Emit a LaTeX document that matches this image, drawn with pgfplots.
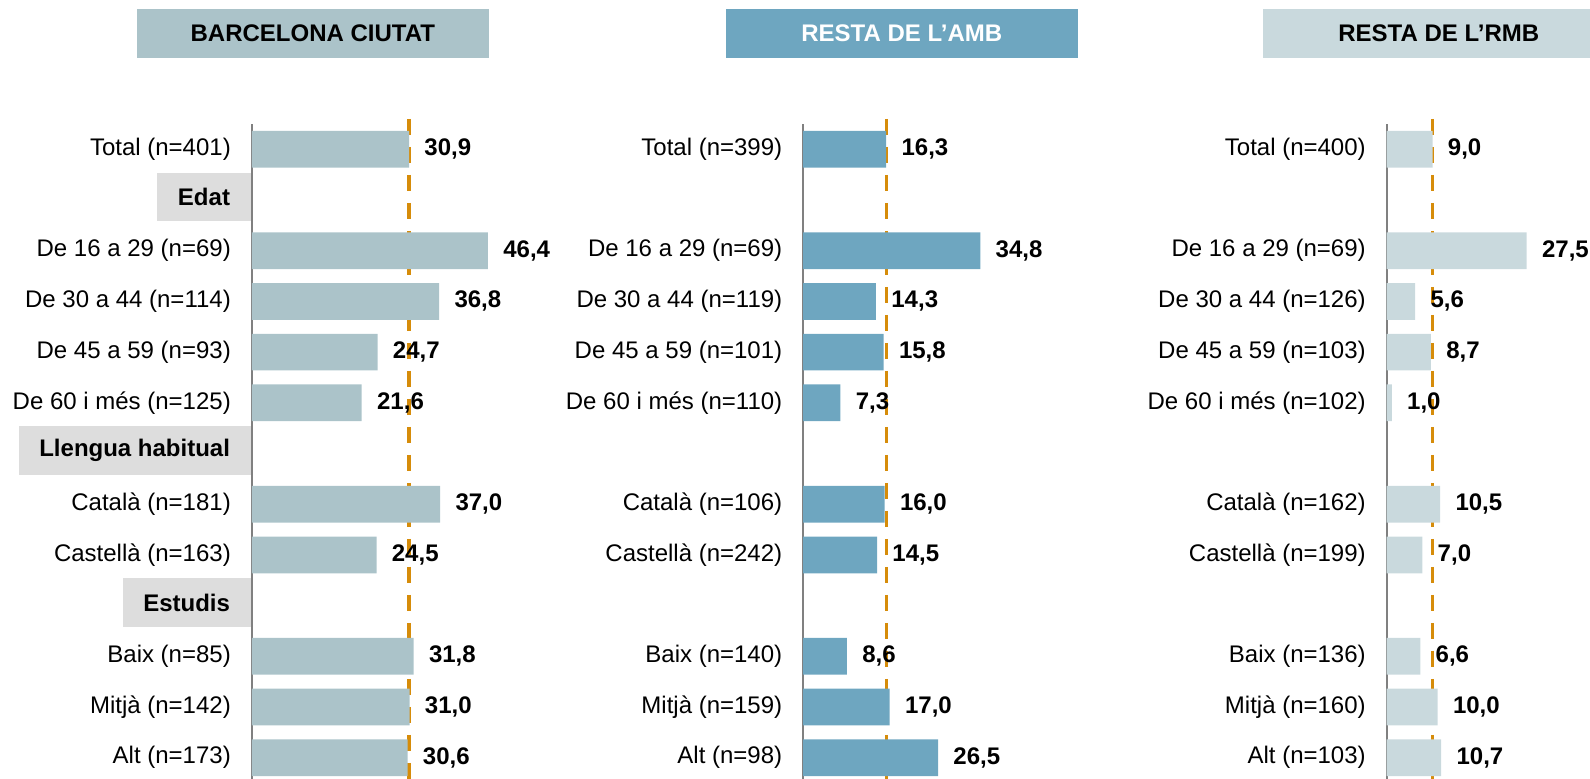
\documentclass[border=0pt]{standalone}
\usepackage{fontspec}
\setmainfont{Liberation Sans}
\usepackage{pgfplots}
\pgfplotsset{compat=1.18}

\definecolor{bcn}{RGB}{171,195,201}
\definecolor{amb}{RGB}{110,166,192}
\definecolor{rmb}{RGB}{201,217,221}
\definecolor{headgray}{RGB}{221,221,221}
\definecolor{dashor}{RGB}{214,140,10}
\definecolor{axgray}{RGB}{128,128,128}

\newcommand\lbl{\fontsize{12pt}{14pt}\selectfont}

% one panel: rows 0..12 top to bottom, 2.545pt per percentage point
\pgfplotsset{
  panel/.style={
    scale only axis,
    anchor=north west,
    width=152.7pt, height=327.5pt,
    xmin=0, xmax=60,
    ymin=-0.5, ymax=12.42,
    y dir=reverse,
    axis x line=none,
    axis y line*=left,
    y axis line style={draw=axgray, line width=0.85pt, -},
    xtick=\empty,
    major tick length=0pt,
    tick style={draw=none},
    yticklabel style={font=\lbl, anchor=east, inner sep=0pt, xshift=-10.3pt},
    clip=false,
  },
  valbar/.style={
    xbar, bar width=18.35pt, fill=#1, draw=none,
    point meta=x,
    nodes near coords={\pgfmathprintnumber[fixed,fixed zerofill,precision=1,use comma,assume math mode=true]{\pgfplotspointmeta}},
    every node near coord/.append style={anchor=west, inner sep=0pt, xshift=7.5pt, font=\lbl\bfseries, text=black},
  },
  totline/.style={draw=dashor, line width=1.65pt, dash pattern=on 8pt off 6pt, mark=none},
}
\tikzset{
  header/.style={fill=headgray, anchor=east, inner xsep=10.3pt, inner ysep=0pt,
    minimum height=24.35pt, font=\lbl\bfseries, xshift=-0.4pt, yshift=1.5pt},
  title/.style={fill=#1, minimum width=175.75pt, minimum height=24.35pt, inner sep=0pt, font=\lbl\bfseries},
}

\begin{document}
\begin{tikzpicture}[font=\lbl]

% titles
\node[title=bcn] at (156.4pt,-16.7pt) {BARCELONA CIUTAT};
\node[title=amb, text=white] at (450.9pt,-16.7pt) {RESTA DE L’AMB};
\node[title=rmb] at (719.4pt,-16.7pt) {RESTA DE L’RMB};

% Barcelona ciutat
\begin{axis}[panel, at={(125.9pt,-62pt)},
    ytick={0,2,3,4,5,7,8,10,11,12},
    yticklabels={Total (n=401),De 16 a 29 (n=69),De 30 a 44 (n=114),De 45 a 59 (n=93),De 60 i més (n=125),Català (n=181),Castellà (n=163),Baix (n=85),Mitjà (n=142),Alt (n=173)}]
  \addplot[totline] coordinates {(30.9,-0.6) (30.9,12.42)};
  \addplot[valbar=bcn] coordinates {
    (30.9,0) (46.4,2) (36.8,3) (24.7,4) (21.6,5)
    (37.0,7) (24.5,8) (31.8,10) (31.0,11) (30.6,12)};
  % section headers
  \node[header] at (axis cs:0,1) {Edat};
  \node[header] at (axis cs:0,6) {Llengua habitual};
  \node[header] at (axis cs:0,9) {Estudis};
\end{axis}

% Resta de l'AMB
\begin{axis}[panel, at={(401.6pt,-62pt)},
    ytick={0,2,3,4,5,7,8,10,11,12},
    yticklabels={Total (n=399),De 16 a 29 (n=69),De 30 a 44 (n=119),De 45 a 59 (n=101),De 60 i més (n=110),Català (n=106),Castellà (n=242),Baix (n=140),Mitjà (n=159),Alt (n=98)}]
  \addplot[totline] coordinates {(16.3,-0.6) (16.3,12.42)};
  \addplot[valbar=amb] coordinates {
    (16.3,0) (34.8,2) (14.3,3) (15.8,4) (7.3,5)
    (16.0,7) (14.5,8) (8.6,10) (17.0,11) (26.5,12)};
\end{axis}

% Resta de l'RMB
\begin{axis}[panel, at={(693.35pt,-62pt)},
    ytick={0,2,3,4,5,7,8,10,11,12},
    yticklabels={Total (n=400),De 16 a 29 (n=69),De 30 a 44 (n=126),De 45 a 59 (n=103),De 60 i més (n=102),Català (n=162),Castellà (n=199),Baix (n=136),Mitjà (n=160),Alt (n=103)}]
  \addplot[totline] coordinates {(9.0,-0.6) (9.0,12.42)};
  \addplot[valbar=rmb] coordinates {
    (9.0,0) (27.5,2) (5.6,3) (8.7,4) (1.0,5)
    (10.5,7) (7.0,8) (6.6,10) (10.0,11) (10.7,12)};
\end{axis}

\pgfresetboundingbox
\useasboundingbox (0pt,0pt) rectangle (795pt,-389.5pt);
\end{tikzpicture}
\end{document}
